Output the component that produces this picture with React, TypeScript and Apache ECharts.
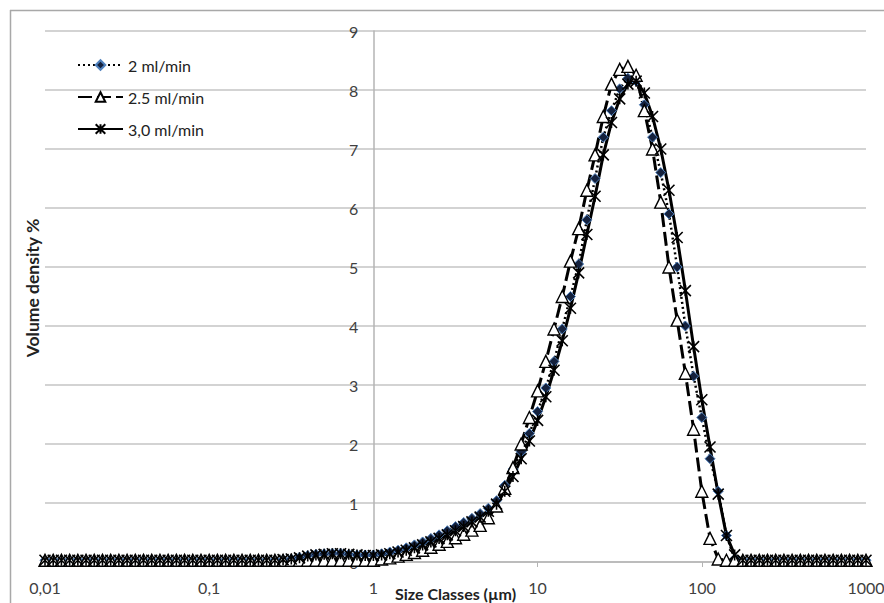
import React, { useEffect, useRef } from "react";
import * as echarts from "echarts";

// Size classes (µm), 20 classes per decade
const sizes = [
  0.01, 0.01122, 0.01259, 0.01413, 0.01585, 0.01778, 0.01995, 0.02239, 0.02512, 0.02818,
  0.03162, 0.03548, 0.03981, 0.04467, 0.05012, 0.05623, 0.0631, 0.07079, 0.07943, 0.08913,
  0.1, 0.1122, 0.1259, 0.1413, 0.1585, 0.1778, 0.1995, 0.2239, 0.2512, 0.2818,
  0.3162, 0.3548, 0.3981, 0.4467, 0.5012, 0.5623, 0.631, 0.7079, 0.7943, 0.8913,
  1, 1.122, 1.259, 1.413, 1.585, 1.778, 1.995, 2.239, 2.512, 2.818,
  3.162, 3.548, 3.981, 4.467, 5.012, 5.623, 6.31, 7.079, 7.943, 8.913,
  10, 11.22, 12.59, 14.13, 15.85, 17.78, 19.95, 22.39, 25.12, 28.18,
  31.62, 35.48, 39.81, 44.67, 50.12, 56.23, 63.1, 70.79, 79.43, 89.13,
  100, 112.2, 125.9, 141.3, 158.5, 177.8, 199.5, 223.9, 251.2, 281.8,
  316.2, 354.8, 398.1, 446.7, 501.2, 562.3, 631, 707.9, 794.3, 891.3,
  1000,
];

const flow2 = [
  0.03, 0.03, 0.03, 0.03, 0.03, 0.03, 0.03, 0.03, 0.03, 0.03,
  0.03, 0.03, 0.03, 0.03, 0.03, 0.03, 0.03, 0.03, 0.03, 0.03,
  0.03, 0.03, 0.03, 0.03, 0.03, 0.03, 0.03, 0.03, 0.03, 0.04,
  0.05, 0.08, 0.11, 0.13, 0.14, 0.15, 0.15, 0.13, 0.12, 0.12,
  0.12, 0.14, 0.17, 0.2, 0.24, 0.29, 0.34, 0.4, 0.46, 0.53,
  0.6, 0.67, 0.74, 0.82, 0.91, 1.04, 1.3, 1.57, 1.87, 2.18,
  2.55, 2.95, 3.4, 3.95, 4.5, 5.05, 5.8, 6.5, 7.2, 7.65,
  8.02, 8.2, 8.15, 7.75, 7.2, 6.6, 5.9, 5.0, 4.0, 3.15,
  2.45, 1.75, 1.2, 0.45, 0.05, 0.03, 0.03, 0.03, 0.03, 0.03,
  0.03, 0.03, 0.03, 0.03, 0.03, 0.03, 0.03, 0.03, 0.03, 0.03,
  0.03,
];

const flow25 = [
  0.03, 0.03, 0.03, 0.03, 0.03, 0.03, 0.03, 0.03, 0.03, 0.03,
  0.03, 0.03, 0.03, 0.03, 0.03, 0.03, 0.03, 0.03, 0.03, 0.03,
  0.03, 0.03, 0.03, 0.03, 0.03, 0.03, 0.03, 0.03, 0.03, 0.03,
  0.03, 0.03, 0.03, 0.03, 0.03, 0.03, 0.03, 0.03, 0.03, 0.03,
  0.03, 0.05, 0.07, 0.1, 0.13, 0.16, 0.2, 0.25, 0.3, 0.35,
  0.41, 0.47, 0.54, 0.62, 0.75, 0.95, 1.25, 1.6, 2.0, 2.45,
  2.9, 3.4, 3.95, 4.5, 5.1, 5.65, 6.3, 6.9, 7.55, 8.1,
  8.35, 8.4, 8.25, 7.65, 7.0, 6.1, 5.0, 4.1, 3.2, 2.25,
  1.2, 0.4, 0.05, 0.03, 0.03, 0.03, 0.03, 0.03, 0.03, 0.03,
  0.03, 0.03, 0.03, 0.03, 0.03, 0.03, 0.03, 0.03, 0.03, 0.03,
  0.03,
];

const flow30 = [
  0.03, 0.03, 0.03, 0.03, 0.03, 0.03, 0.03, 0.03, 0.03, 0.03,
  0.03, 0.03, 0.03, 0.03, 0.03, 0.03, 0.03, 0.03, 0.03, 0.03,
  0.03, 0.03, 0.03, 0.03, 0.03, 0.03, 0.03, 0.03, 0.03, 0.04,
  0.05, 0.07, 0.1, 0.12, 0.13, 0.14, 0.14, 0.13, 0.12, 0.11,
  0.11, 0.12, 0.14, 0.17, 0.2, 0.24, 0.29, 0.34, 0.4, 0.46,
  0.53, 0.6, 0.68, 0.76, 0.86, 0.98, 1.2, 1.45, 1.75, 2.05,
  2.4, 2.8, 3.25, 3.75, 4.3, 4.9, 5.55, 6.2, 6.9, 7.45,
  7.85, 8.1, 8.15, 7.95, 7.55, 7.0, 6.3, 5.5, 4.6, 3.65,
  2.75, 1.95, 1.15, 0.45, 0.12, 0.03, 0.03, 0.03, 0.03, 0.03,
  0.03, 0.03, 0.03, 0.03, 0.03, 0.03, 0.03, 0.03, 0.03, 0.03,
  0.03,
];

const seriesNames = ["2 ml/min", "2.5 ml/min", "3,0 ml/min"];
const xTickLabels = ["0,01", "0,1", "1", "10", "100", "1000"];
const xAxisTitle = "Size Classes (µm)";
const yAxisTitle = "Volume density %";

const FONT = "Lato, 'Open Sans', sans-serif";

export default function App() {
  const ref = useRef<HTMLDivElement>(null);

  useEffect(() => {
    if (!ref.current) return;
    const chart = echarts.init(ref.current, null, { renderer: "svg" });
    const toPairs = (vals: number[]) => sizes.map((s, i) => [s, vals[i]]);

    chart.setOption({
      animation: false,
      backgroundColor: "#ffffff",
      textStyle: { fontFamily: FONT },
      grid: { left: 45, top: 31, width: 821, height: 531, outerBoundsMode: "none", containLabel: false },
      legend: {
        orient: "vertical",
        left: 72,
        top: 52,
        itemWidth: 45,
        itemHeight: 12,
        itemGap: 16,
        data: seriesNames,
        textStyle: { fontSize: 16, color: "#222", fontFamily: FONT },
      },
      xAxis: {
        type: "log",
        logBase: 10,
        min: 0.01,
        max: 1000,
        axisLine: { lineStyle: { color: "#b4b4b4", width: 1.5 } },
        axisTick: { show: true, length: 5, lineStyle: { color: "#b4b4b4" } },
        minorTick: { show: false },
        splitLine: { show: false },
        axisLabel: {
          fontSize: 16,
          color: "#404040",
          margin: 17,
          formatter: (v: number) => xTickLabels[Math.round(Math.log10(v)) + 2] ?? "",
        },
        name: xAxisTitle,
        nameLocation: "middle",
        nameGap: 23,
        nameMoveOverlap: false,
        nameTextStyle: { fontWeight: "bold", fontSize: 16, color: "#222" },
      },
      yAxis: {
        type: "value",
        min: 0,
        max: 9,
        interval: 1,
        offset: -328.4,
        axisLine: { show: true, lineStyle: { color: "#b4b4b4", width: 1.5 } },
        axisTick: { show: false },
        axisLabel: { fontSize: 16, color: "#404040", margin: 15 },
        splitLine: { show: true, lineStyle: { color: "#c4c4c4", width: 1.5 } },
      },
      graphic: [
        {
          type: "line",
          shape: { x1: 10.5, y1: 10, x2: 10.5, y2: 603 },
          style: { stroke: "#a8a8a8", lineWidth: 1.5 },
        },
        {
          type: "line",
          shape: { x1: 10, y1: 10.5, x2: 884, y2: 10.5 },
          style: { stroke: "#a8a8a8", lineWidth: 1.5 },
        },
        {
          type: "text",
          x: 32,
          y: 288,
          rotation: Math.PI / 2,
          style: {
            text: yAxisTitle,
            fontSize: 17.5,
            fontWeight: "bold",
            fontFamily: FONT,
            fill: "#222",
            align: "center",
            verticalAlign: "middle",
          },
        },
      ],
      series: [
        {
          name: seriesNames[0],
          type: "line",
          data: toPairs(flow2),
          symbol: "diamond",
          symbolSize: 10,
          lineStyle: { color: "#000", width: 2.5, type: [2, 3] },
          itemStyle: { color: "#14213d", borderColor: "#4f81bd", borderWidth: 1 },
        },
        {
          name: seriesNames[1],
          type: "line",
          data: toPairs(flow25),
          symbol: "triangle",
          symbolSize: 12,
          lineStyle: { color: "#000", width: 3, type: [14, 5] },
          itemStyle: { color: "#ffffff", borderColor: "#000", borderWidth: 1.4 },
        },
        {
          name: seriesNames[2],
          type: "line",
          data: toPairs(flow30),
          symbol: "path://M0,0L10,10M10,0L0,10M5,0L5,10",
          symbolSize: 11,
          lineStyle: { color: "#000", width: 3 },
          itemStyle: { color: "rgba(0,0,0,0)", borderColor: "#000", borderWidth: 1.6 },
        },
      ],
    });

    return () => chart.dispose();
  }, []);

  return (
    <div
      ref={ref}
      style={{ position: "fixed", left: 0, top: 0, width: 884, height: 603 }}
    />
  );
}
